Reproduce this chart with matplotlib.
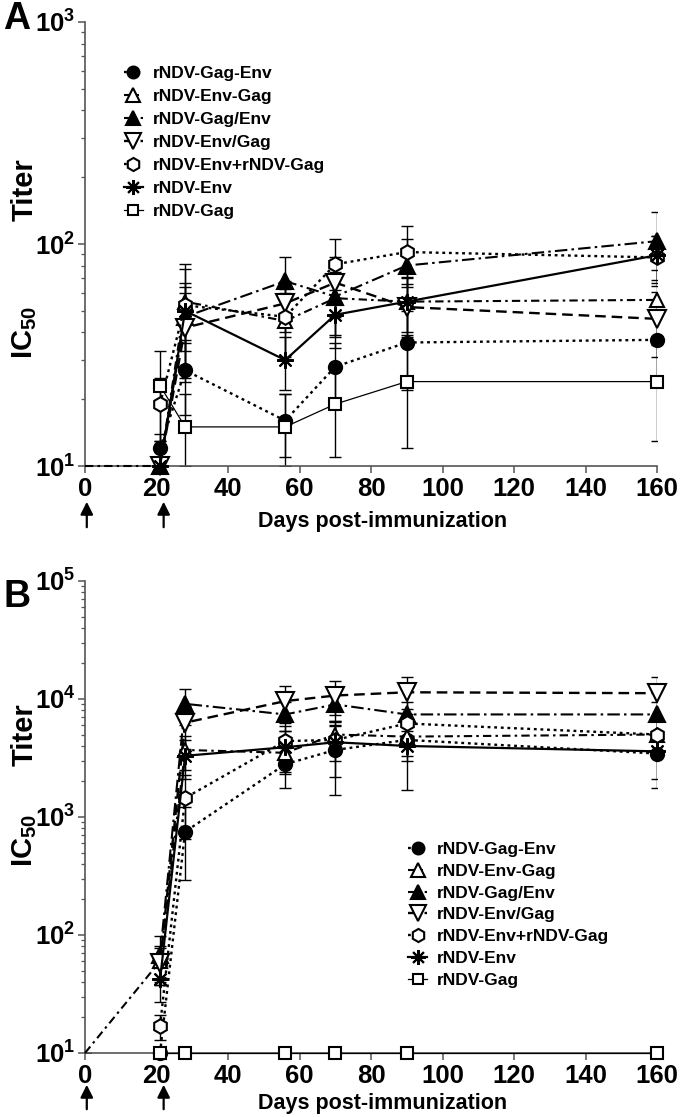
import numpy as np
import matplotlib
matplotlib.use("Agg")
import matplotlib.pyplot as plt
from matplotlib.ticker import FixedLocator, FuncFormatter, LogLocator, NullFormatter

plt.rcParams['font.family'] = ['Liberation Sans', 'DejaVu Sans']
plt.rcParams['font.weight'] = 'bold'
plt.rcParams['mathtext.fontset'] = 'custom'
plt.rcParams['mathtext.rm'] = 'Liberation Sans:bold'
plt.rcParams['mathtext.bf'] = 'Liberation Sans:bold'
plt.rcParams['mathtext.it'] = 'Liberation Sans:bold'
plt.rcParams['xtick.labelsize'] = 18.5
plt.rcParams['ytick.labelsize'] = 18.5

# ---------------- data ----------------
labels = ["rNDV-Gag-Env", "rNDV-Env-Gag", "rNDV-Gag/Env", "rNDV-Env/Gag",
          "rNDV-Env+rNDV-Gag", "rNDV-Env", "rNDV-Gag"]
days = [21, 28, 56, 70, 90, 160]
days_with0 = [0, 21, 28, 56, 70, 90, 160]   # rNDV-Env-Gag series also has day 0
x_ticks = [0, 20, 40, 60, 80, 100, 120, 140, 160]
immunization_days = [0.5, 22]

# Panel A (IC50 titer, mean and SD)
a_gag_env = [12, 27, 16, 28, 36, 37]
a_gag_env_sd = [2, 10, 5, 8, 14, 12]
a_env_gag = [10, 10, 55, 45, 57, 55, 56]
a_env_gag_sd = [0, 1, 22, 15, 18, 15, 20]
a_gag_slash_env = [10, 47, 68, 58, 80, 103]
a_gag_slash_env_sd = [1, 20, 19, 20, 25, 36]
a_env_slash_gag = [10, 42, 54, 67, 52, 46]
a_env_slash_gag_sd = [1, 18, 14, 20, 14, 15]
a_env_plus_gag = [19, 53, 47, 81, 92, 87]
a_env_plus_gag_sd = [6, 28, 16, 24, 28, 22]
a_env = [10, 50, 30, 48, 55, 89]
a_env_sd = [1, 14, 8, 14, 16, 20]
a_gag = [23, 15, 15, 19, 24, 24]
a_gag_sd = [10, 6, 6, 8, 12, 11]

# Panel B
b_gag_env = [10, 750, 2800, 3700, 4500, 3450]
b_gag_env_sd = [0, 460, 1050, 2150, 1500, 1700]
b_env_gag = [10, 60, 3700, 3500, 5000, 4800, 5000]
b_env_gag_sd = [0, 20, 1200, 1200, 1500, 1500, 1500]
b_gag_slash_env = [68, 9100, 7400, 9000, 7400, 7400]
b_gag_slash_env_sd = [30, 3100, 2000, 2500, 2000, 2000]
b_env_slash_gag = [58, 6300, 9600, 10700, 11400, 11200]
b_env_slash_gag_sd = [20, 2500, 3300, 3400, 4000, 4200]
b_env_plus_gag = [17, 1450, 4400, 4500, 6200, 5000]
b_env_plus_gag_sd = [4, 800, 1500, 1500, 2000, 1500]
b_env = [42, 3300, 3900, 4300, 4000, 3600]
b_env_sd = [15, 1200, 1500, 2100, 2300, 1500]
b_gag = [10, 10, 10, 10, 10, 10]
b_gag_sd = [0, 0, 0, 0, 0, 0]

# ---------------- styles ----------------
styles = [
    dict(marker='o', mfc='black', ms=9.5, ls=(0, (1.2, 1.6)), lw=1.7),
    dict(marker='^', mfc='white', ms=10.5, ls=(0, (4, 2, 1.2, 2)), lw=1.5),
    dict(marker='^', mfc='black', ms=11.5, ls=(0, (6, 2, 1.2, 2)), lw=1.5),
    dict(marker='v', mfc='white', ms=13, ls=(0, (4.5, 2.5)), lw=1.7),
    dict(marker='h', mfc='white', ms=10.5, ls=(0, (1.2, 1.6)), lw=1.7),
    dict(marker=(8, 2, 0), mfc='black', ms=12, ls='-', lw=1.6),
    dict(marker='s', mfc='white', ms=8.5, ls='-', lw=0.9),
]

W, H = 680, 1117
fig = plt.figure(figsize=(W / 100, H / 100), dpi=100)


def fx(px):
    return px / W


def fy(py):
    return 1 - py / H


def make_axes(top_px, bot_px, ymin_exp, ymax_exp):
    ax = fig.add_axes([fx(85), fy(bot_px), fx(657 - 85), (bot_px - top_px) / H])
    ax.set_yscale('log')
    ax.set_ylim(10 ** ymin_exp, 10 ** ymax_exp)
    ax.set_xlim(0, 160)
    ax.spines['top'].set_visible(False)
    ax.spines['right'].set_visible(False)
    ax.spines['left'].set_color('#555555')
    ax.spines['bottom'].set_color('#555555')
    ax.spines['left'].set_linewidth(1.2)
    ax.spines['bottom'].set_linewidth(1.2)
    ax.xaxis.set_major_locator(FixedLocator(x_ticks))
    ax.set_xticklabels([str(t) for t in x_ticks], fontsize=18.5, fontweight='bold')
    ax.yaxis.set_major_locator(LogLocator(base=10, numticks=20))
    ax.yaxis.set_minor_locator(LogLocator(base=10, subs=np.arange(2, 10), numticks=20))
    ax.yaxis.set_minor_formatter(NullFormatter())
    ax.yaxis.set_major_formatter(FuncFormatter(lambda v, p: r"$\mathbf{10^{%d}}$" % round(np.log10(v))))
    ax.tick_params(axis='both', which='major', direction='out', length=5, width=1.1,
                   color='#555555', labelsize=18.5, pad=2)
    ax.tick_params(axis='y', which='minor', direction='out', length=3, width=0.9, color='#555555')
    ax.tick_params(axis='x', which='major', pad=3)
    return ax


def draw_panel(ax, series, ymin):
    handles = []
    for i, (xs, ys, sd) in enumerate(series):
        st = styles[i]
        xs = np.array(xs, float)
        ys = np.array(ys, float)
        sd = np.array(sd, float)
        lo = ys - np.maximum(ys - sd, ymin)
        up = sd
        ax.errorbar(xs, ys, yerr=[lo, up], fmt='none', ecolor='black', elinewidth=1.0,
                    capsize=4.5, capthick=1.0, zorder=2)
        start = 1 if xs[0] == 0 else 0
        line, = ax.plot(xs, ys, color='black', linestyle=st['ls'], lw=st['lw'],
                        marker=st['marker'], ms=st['ms'], mfc=st['mfc'], mec='black',
                        mew=1.5, markevery=list(range(start, len(xs))),
                        clip_on=False, zorder=3 + i * 0.1, label=labels[i])
        handles.append(line)
    return handles


# Panel A
axA = make_axes(22, 466, 1, 3)
seriesA = [
    (days, a_gag_env, a_gag_env_sd),
    (days_with0, a_env_gag, a_env_gag_sd),
    (days, a_gag_slash_env, a_gag_slash_env_sd),
    (days, a_env_slash_gag, a_env_slash_gag_sd),
    (days, a_env_plus_gag, a_env_plus_gag_sd),
    (days, a_env, a_env_sd),
    (days, a_gag, a_gag_sd),
]
hA = draw_panel(axA, seriesA, 10)
legA = axA.legend(handles=hA, loc='upper left', bbox_to_anchor=(0.068, 0.902),
                  frameon=False, fontsize=12.5, handlelength=1.1, handletextpad=0.55,
                  labelspacing=0.46, borderpad=0, borderaxespad=0, markerscale=0.9)

# Panel B
axB = make_axes(581, 1053, 1, 5)
seriesB = [
    (days, b_gag_env, b_gag_env_sd),
    (days_with0, b_env_gag, b_env_gag_sd),
    (days, b_gag_slash_env, b_gag_slash_env_sd),
    (days, b_env_slash_gag, b_env_slash_gag_sd),
    (days, b_env_plus_gag, b_env_plus_gag_sd),
    (days, b_env, b_env_sd),
    (days, b_gag, b_gag_sd),
]
hB = draw_panel(axB, seriesB, 10)
legB = axB.legend(handles=hB, loc='upper left', bbox_to_anchor=(0.565, 0.447),
                  frameon=False, fontsize=12.5, handlelength=1.1, handletextpad=0.55,
                  labelspacing=0.38, borderpad=0, borderaxespad=0, markerscale=0.9)

for leg in (legA, legB):
    for t in leg.get_texts():
        t.set_fontweight('bold')

# x labels
for ypx in (521, 1103):
    fig.text(fx(383), fy(ypx), "Days post-immunization", fontsize=15.5,
             fontweight='bold', ha='center', va='center')

# arrows marking immunizations
for (tail, head) in ((530, 499), (1112, 1082)):
    for d in immunization_days:
        xfig = fx(85 + d * 572 / 160)
        fig.add_artist(matplotlib.patches.FancyArrowPatch(
            (xfig, fy(tail)), (xfig, fy(head)), transform=fig.transFigure,
            arrowstyle='-|>,head_length=5,head_width=2.5', color='black', lw=1.6,
            mutation_scale=1.5))

# y labels (IC50 ... Titer)
for (ic_y, ti_y) in ((332, 190), (840, 735)):
    fig.text(fx(25), fy(ic_y), r"IC$_{\mathbf{50}}$", rotation=90, fontsize=21,
             fontweight='bold', ha='center', va='center')
    fig.text(fx(25), fy(ti_y), "Titer", rotation=90, fontsize=21,
             fontweight='bold', ha='center', va='center')

# panel letters
fig.text(fx(3), fy(19), "A", fontsize=27, fontweight='bold', ha='left', va='center')
fig.text(fx(3), fy(597), "B", fontsize=27, fontweight='bold', ha='left', va='center')

fig.savefig("out.png", dpi=100)
